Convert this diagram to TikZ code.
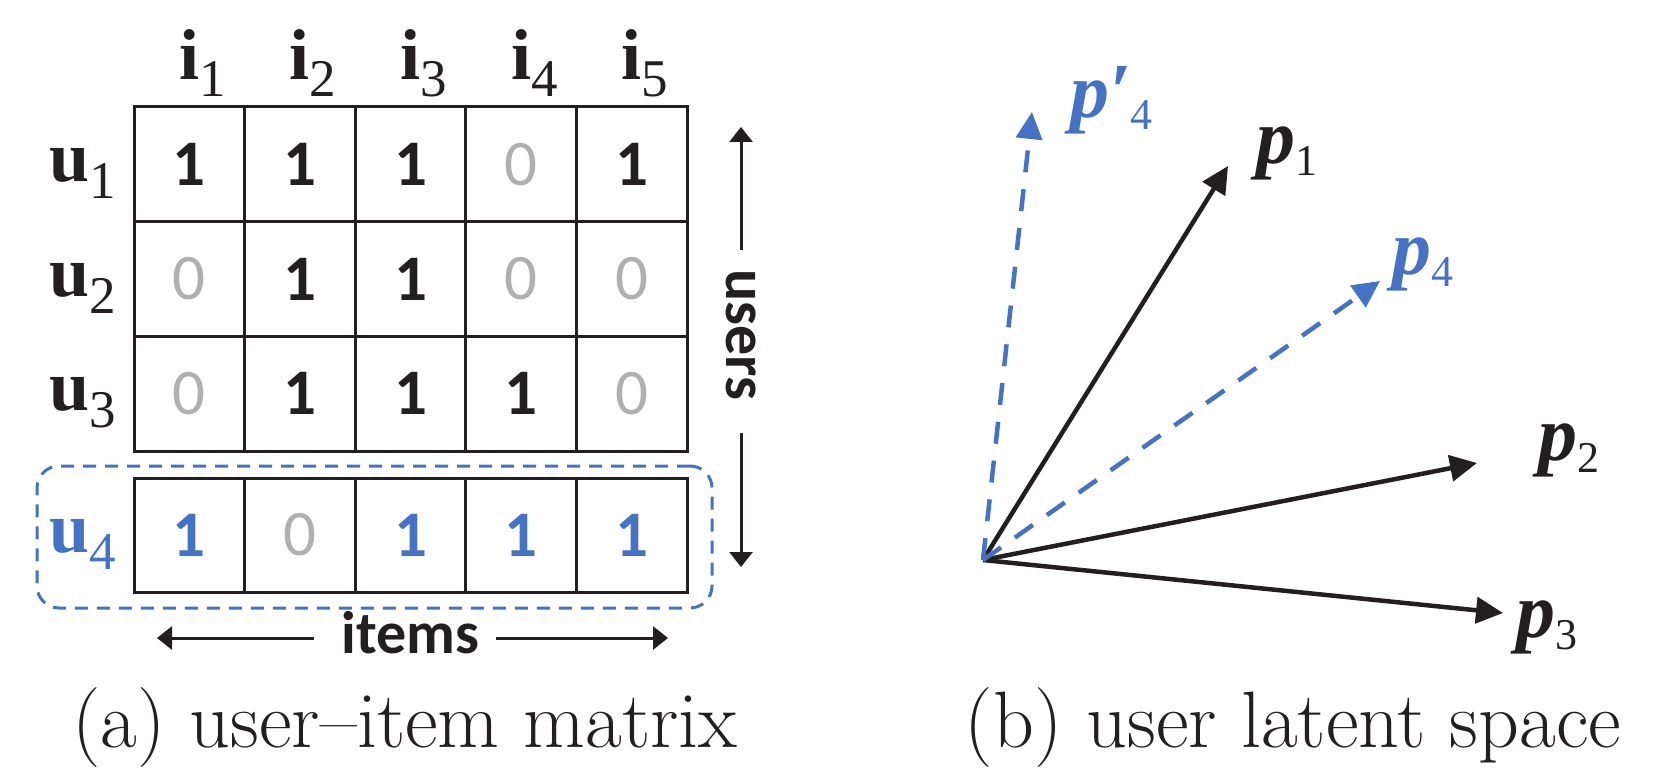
\documentclass[tikz,border=0pt]{standalone}
\usepackage{fontspec}
\usetikzlibrary{arrows.meta,calc}
\newfontfamily\tnrfont{Liberation Serif}
\newfontfamily\carfont{Carlito}
\definecolor{ink}{HTML}{231F20}
\definecolor{pblue}{HTML}{4472C4}
\definecolor{zgray}{HTML}{B0B0B0}
\newcommand\idxlab[2]{{\tnrfont\bfseries\fontsize{72}{72}\selectfont #1}\lower17pt\hbox{\tnrfont\fontsize{53}{53}\selectfont #2}}
\newcommand\veclab[2]{{\tnrfont\bfseries\itshape\fontsize{78}{78}\selectfont p#1}\lower12pt\hbox{\tnrfont\fontsize{44}{44}\selectfont #2}}
\newcommand\cellnum[2]{\ifnum#1=1 {\carfont\bfseries\fontsize{65}{65}\selectfont\color{#2}1}\else{\carfont\fontsize{65}{65}\selectfont\color{zgray}0}\fi}
\begin{document}
\begin{tikzpicture}[x=1pt,y=-1pt,
  cellbox/.style={draw=ink, line width=3pt, minimum width=110.6pt, minimum height=114.7pt, inner sep=0pt, outer sep=0pt},
  lab/.style={inner sep=0pt, outer sep=0pt},
  arr/.style={line width=3pt, draw=ink, -{Triangle[length=15pt,width=23pt]}},
  vec/.style={line width=4.5pt, draw=ink, -{Triangle[length=27pt,width=26pt]}},
  dvec/.style={vec, draw=pblue, dash pattern=on 22pt off 17pt},
  selbox/.style={draw=pblue, line width=3pt, dash pattern=on 13pt off 9pt, rounded corners=22pt, minimum width=675pt, minimum height=142pt, inner sep=0pt},
  capt/.style={inner sep=0pt, outer sep=0pt, anchor=base, text=ink, font=\addfontfeature{FakeBold=1.5}\fontsize{80}{88}\selectfont}]
\useasboundingbox (0,0) rectangle (1677,770);

% selection box around u4
\node[selbox] (sel) at (374.5,537) {};

% matrix rows 1-3
\foreach \r/\vals in {1/{1,1,1,0,1},2/{0,1,1,0,0},3/{0,1,1,1,0}}{
  \foreach [count=\c] \v in \vals {
    \node[cellbox] (c\r\c) at ({134+110.6*(\c-0.5)},{107+114.7*(\r-0.5)}) {\cellnum{\v}{ink}};
  }
}
% row 4
\foreach [count=\c] \v in {1,0,1,1,1} {
  \node[cellbox, minimum height=114pt] (c4\c) at ({134+110.6*(\c-0.5)},535) {\cellnum{\v}{pblue}};
}

% column labels
\foreach \c in {1,...,5} {
  \node[lab, anchor=base west, text=ink] (i\c) at ({134+110.6*(\c-0.5)-10},80) {\idxlab{i}{\c}};
}
% row labels
\node[lab, anchor=base east, text=ink] (u1) at (116,181.5) {\idxlab{u}{1}};
\node[lab, anchor=base east, text=ink] (u2) at (116,296) {\idxlab{u}{2}};
\node[lab, anchor=base east, text=ink] (u3) at (116,410.5) {\idxlab{u}{3}};
\node[lab, anchor=base east, text=pblue] (u4) at (116,552) {\idxlab{u}{4}};

% users axis
\node[lab, rotate=-90, text=ink, font=\carfont\bfseries\fontsize{60}{60}\selectfont] (users) at (741,335) {users};
\coordinate (uTop) at (741,127);
\coordinate (uBot) at (741,567);
\draw[arr] ($(users.west)+(0,-20)$) -- (uTop);
\draw[arr] ($(users.east)+(0,33)$) -- (uBot);

% items axis
\node[lab, anchor=base, text=ink, font=\carfont\bfseries\fontsize{60}{60}\selectfont] (items) at (410.5,653) {items};
\coordinate (iL) at (157,638);
\coordinate (iR) at (668,638);
\draw[arr] ($(items.west |- iL)+(-28,0)$) -- (iL);
\draw[arr] ($(items.east |- iR)+(17,0)$) -- (iR);

% latent space
\coordinate (O) at (983,560);
\coordinate (t4p) at (1032,112);
\coordinate (t1) at (1228,166);
\coordinate (t4) at (1380,281);
\coordinate (t2) at (1477,463);
\coordinate (t3) at (1503,613);
\draw[vec] (O) -- (t1);
\draw[vec] (O) -- (t2);
\draw[vec] (O) -- (t3);
\draw[dvec] (O) -- (t4p);
\draw[dvec] (O) -- (t4);

\node[lab, anchor=base west, text=pblue] (l4p) at (1070,118) {\veclab{′}{4}};
\node[lab, anchor=base west, text=ink] (l1) at (1256,164) {\veclab{}{1}};
\node[lab, anchor=base west, text=pblue] (l4) at (1392,274) {\veclab{}{4}};
\node[lab, anchor=base west, text=ink] (l2) at (1538,460) {\veclab{}{2}};
\node[lab, anchor=base west, text=ink] (l3) at (1516,637) {\veclab{}{3}};

% captions
\node[capt] (capA) at (405,747) {(a) user–item matrix};
\node[capt] (capB) at (1293,747) {(b) user latent space};
\end{tikzpicture}
\end{document}
